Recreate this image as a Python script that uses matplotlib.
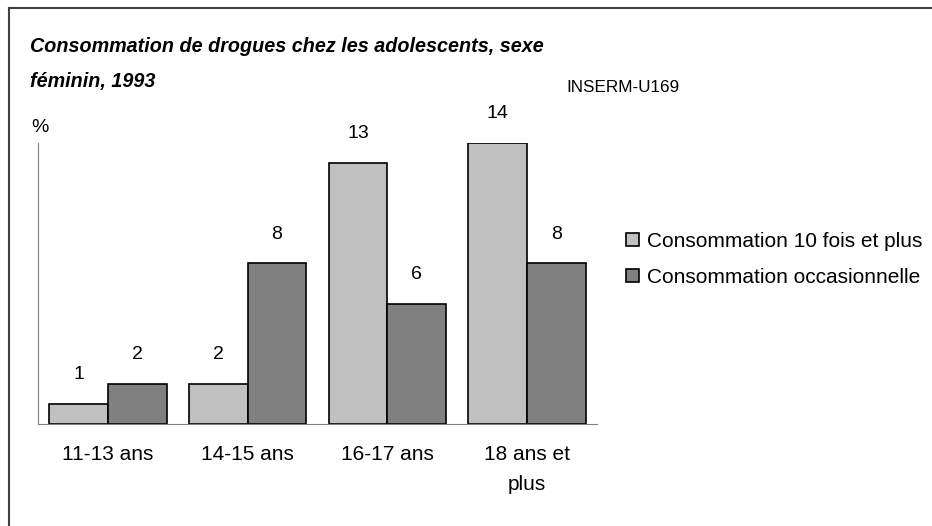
import numpy as np
import matplotlib.pyplot as plt
from matplotlib.lines import Line2D

categories = ['11-13 ans', '14-15 ans', '16-17 ans', '18 ans et\nplus']
series_names = ['Consommation 10 fois et plus', 'Consommation occasionnelle']
frequent = [1, 2, 13, 14]
occasional = [2, 8, 6, 8]

W, H = 932, 526
fig = plt.figure(figsize=(W / 100, H / 100), dpi=100)
plt.rcParams['font.family'] = ['Liberation Sans', 'DejaVu Sans']

# outer frame (only left and top edges visible)
fig.add_artist(Line2D([9 / W, 9 / W], [0, 1 - 8 / H], color='#404040', lw=1.5))
fig.add_artist(Line2D([9 / W, 1], [1 - 8 / H, 1 - 8 / H], color='#404040', lw=1.5))

ax = fig.add_axes([38 / W, 1 - 424 / H, 559 / W, 281 / H])
x = np.arange(len(categories))
bw = 0.42
b1 = ax.bar(x - bw / 2, frequent, bw, color='#c0c0c0', edgecolor='black', lw=1.2)
b2 = ax.bar(x + bw / 2, occasional, bw, color='#808080', edgecolor='black', lw=1.2)

for bars, vals in ((b1, frequent), (b2, occasional)):
    for b, v in zip(bars, vals):
        ax.text(b.get_x() + b.get_width() / 2, v + 1.45, str(v), ha='center', va='center',
                fontsize=14)

ax.set_xlim(-0.5, 3.5)
ax.set_ylim(0, 14)
ax.set_yticks([])
ax.set_xticks(x)
ax.set_xticklabels(categories, fontsize=15, linespacing=1.72)
ax.tick_params(axis='x', length=0, pad=15)
for s in ('top', 'right'):
    ax.spines[s].set_visible(False)
ax.spines['left'].set_color('#808080')
ax.spines['bottom'].set_color('#808080')

fig.text(30 / W, 1 - 52 / H, 'Consommation de drogues chez les adolescents, sexe',
         fontsize=14.2, fontweight='bold', style='italic', va='baseline')
fig.text(30 / W, 1 - 87 / H, 'féminin, 1993',
         fontsize=14.2, fontweight='bold', style='italic', va='baseline')
fig.text(566 / W, 1 - 88 / H, 'INSERM-U169', fontsize=12.3, va='center')
fig.text(40 / W, 1 - 127 / H, '%', fontsize=14, va='center', ha='center')

fig.legend([b1, b2], series_names, loc='upper left',
           bbox_to_anchor=(626 / W, 1 - 232 / H), frameon=False, fontsize=15,
           handlelength=0.6, handleheight=0.6, handletextpad=0.4, labelspacing=0.8,
           borderpad=0, borderaxespad=0)

fig.savefig('out.png', dpi=100)
